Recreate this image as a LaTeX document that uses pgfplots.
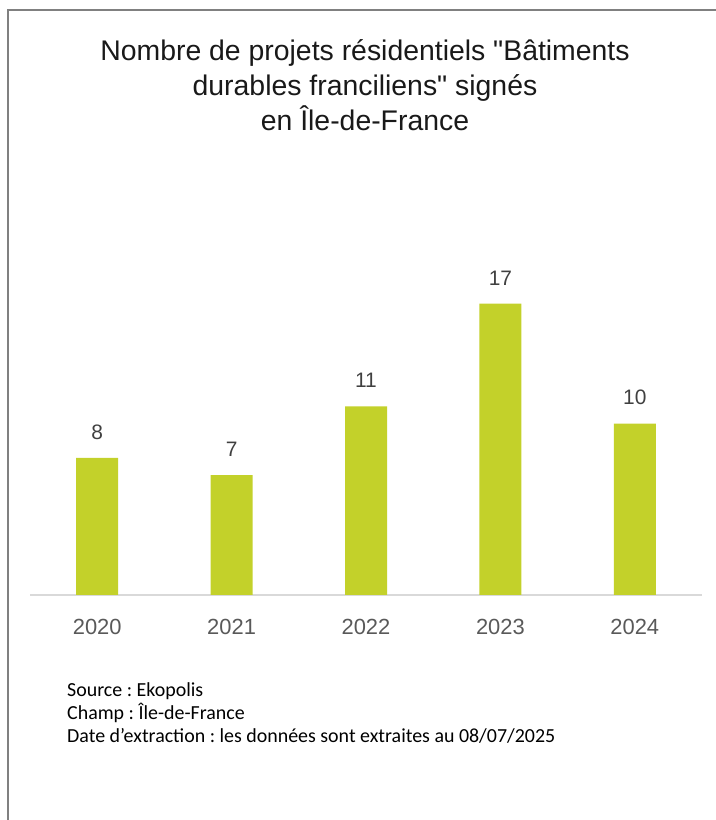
\documentclass[border=0pt]{standalone}
\usepackage{pgfplots}
\pgfplotsset{compat=1.18}
\usepackage{fontspec}
\setmainfont{Liberation Sans}[Ligatures=TeXOff]
\newfontfamily\srcfont{Carlito}
\frenchspacing
\definecolor{barc}{HTML}{C3D12A}
\definecolor{lab}{HTML}{404040}
\definecolor{tick}{HTML}{595959}
\definecolor{base}{HTML}{D9D9D9}
\begin{document}
\begin{tikzpicture}[x=1bp,y=1bp]
\path[use as bounding box] (0,0) rectangle (716,820);
\draw[black!50, line width=1.5bp] (8,0) -- (8,810) -- (716,810);
\node[align=center, font=\fontsize{28.5}{35}\selectfont, text=black!90] at (365,735) {Nombre de projets résidentiels "Bâtiments\\durables franciliens" signés\\en Île-de-France};
\begin{axis}[
  at={(30bp,225bp)}, anchor=south west,
  scale only axis, width=672bp, height=425bp,
  xmin=-0.5, xmax=4.5, ymin=0, ymax=24.8,
  hide y axis,
  axis x line*=bottom,
  axis line style={draw=base, line width=1.5bp},
  x axis line style={-},
  xtick={0,1,2,3,4},
  xticklabels={2020,2021,2022,2023,2024},
  major tick length=0pt,
  xticklabel style={font=\fontsize{22}{26}\selectfont, text=tick, anchor=north, yshift=-21bp},
  ybar, bar width=42bp,
  nodes near coords,
  /pgf/number format/assume math mode=true,
  every node near coord/.append style={font=\fontsize{21}{25}\selectfont, text=lab, anchor=south, yshift=15bp},
  clip=false,
]
\addplot[fill=barc, draw=none] coordinates {(0,8) (1,7) (2,11) (3,17) (4,10)};
\end{axis}
\begin{scope}[every node/.style={anchor=base west, font=\fontsize{20}{23}\srcfont, inner sep=0pt}]
\node at (67,123) {Source : Ekopolis};
\node at (67,100) {Champ : Île-de-France};
\node at (67,77) {Date d’extraction : les données sont extraites au 08/07/2025};
\end{scope}
\end{tikzpicture}
\end{document}
